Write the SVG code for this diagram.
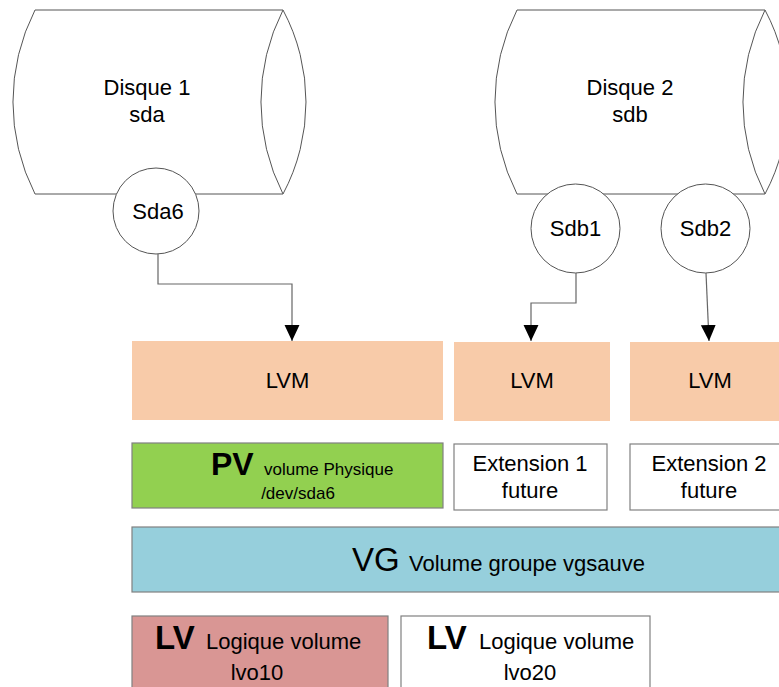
<svg xmlns="http://www.w3.org/2000/svg" width="779" height="687" viewBox="0 0 779 687">
<style>
text{font-family:"Liberation Sans",Arial,sans-serif;fill:#000;}
.t{font-size:22px;text-anchor:middle;}
.disk{fill:#fff;stroke:#555;stroke-width:1;}
.part{fill:#fff;stroke:#555;stroke-width:1;}
.lvm{fill:#F8CBA9;stroke:none;}
.box{stroke:#808080;stroke-width:1.2;}
.big{font-size:33px;font-weight:bold;}
.conn{fill:none;stroke:#666;stroke-width:1.2;}
</style>
<defs>
<marker id="arr" markerUnits="userSpaceOnUse" markerWidth="16" markerHeight="16" viewBox="0 0 15 14" refX="15" refY="7" orient="auto">
<path d="M0,0 L15,7 L0,14 Z" fill="#000"/>
</marker>
</defs>
<rect width="779" height="687" fill="#fff"/>

<g id="disque1">
<path class="disk" d="M35,10 H283 A195.5,195.5 0 0 1 283,194 H35 A203,203 0 0 1 35,10 Z"/>
<path class="disk" d="M283,10 A203,203 0 0 0 283,194"/>
<text class="t" x="147" y="95">Disque 1</text>
<text class="t" x="147" y="122">sda</text>
</g>
<g id="disque2">
<path class="disk" d="M517,10 H765 A195.5,195.5 0 0 1 765,194 H517 A203,203 0 0 1 517,10 Z"/>
<path class="disk" d="M765,10 A203,203 0 0 0 765,194"/>
<text class="t" x="630" y="95">Disque 2</text>
<text class="t" x="630" y="122">sdb</text>
</g>

<g id="sda6">
<circle class="part" cx="156" cy="211" r="43"/>
<text class="t" x="158" y="219">Sda6</text>
</g>
<g id="sdb1">
<circle class="part" cx="575.5" cy="228.5" r="44.5"/>
<text class="t" x="575.5" y="236">Sdb1</text>
</g>
<g id="sdb2">
<circle class="part" cx="705.5" cy="228.5" r="44.5"/>
<text class="t" x="705.5" y="236">Sdb2</text>
</g>

<g id="connectors">
<path class="conn" d="M158,254 V284 H292 V341" marker-end="url(#arr)"/>
<path class="conn" d="M576,273 V303 H531 V341" marker-end="url(#arr)"/>
<path class="conn" d="M706,273 L709,341" marker-end="url(#arr)"/>
</g>

<g id="lvm1">
<rect class="lvm" x="132" y="341" width="311" height="79"/>
<text class="t" x="287.5" y="388">LVM</text>
</g>
<g id="lvm2">
<rect class="lvm" x="454" y="342" width="156" height="79"/>
<text class="t" x="532" y="388">LVM</text>
</g>
<g id="lvm3">
<rect class="lvm" x="630" y="342" width="160" height="79"/>
<text class="t" x="710" y="388">LVM</text>
</g>

<g id="pv">
<rect class="box" x="132" y="443" width="311" height="65" fill="#92D050"/>
<text x="211" y="475" class="big" style="font-size:32px">PV</text>
<text x="264" y="475" style="font-size:17px">volume Physique</text>
<text x="298" y="499" style="font-size:17px;text-anchor:middle">/dev/sda6</text>
</g>
<g id="ext1">
<rect class="box" x="454" y="444" width="153" height="66" fill="#fff"/>
<text class="t" x="530" y="471">Extension 1</text>
<text class="t" x="530" y="498">future</text>
</g>
<g id="ext2">
<rect class="box" x="630" y="444" width="160" height="66" fill="#fff"/>
<text class="t" x="709" y="471">Extension 2</text>
<text class="t" x="709" y="498">future</text>
</g>

<g id="vg">
<rect class="box" x="132" y="527" width="660" height="65" fill="#96CFDC"/>
<text x="352" y="571" style="font-size:33px">VG</text>
<text x="409" y="571" style="font-size:22px">Volume groupe vgsauve</text>
</g>

<g id="lv1">
<rect class="box" x="132" y="616" width="256" height="80" fill="#D99694"/>
<text x="155" y="649" class="big">LV</text>
<text x="206" y="649" style="font-size:22px">Logique volume</text>
<text class="t" x="257" y="680">lvo10</text>
</g>
<g id="lv2">
<rect class="box" x="401" y="616" width="249" height="80" fill="#fff"/>
<text x="427" y="649" class="big">LV</text>
<text x="479" y="649" style="font-size:22px">Logique volume</text>
<text class="t" x="530" y="680">lvo20</text>
</g>
</svg>
